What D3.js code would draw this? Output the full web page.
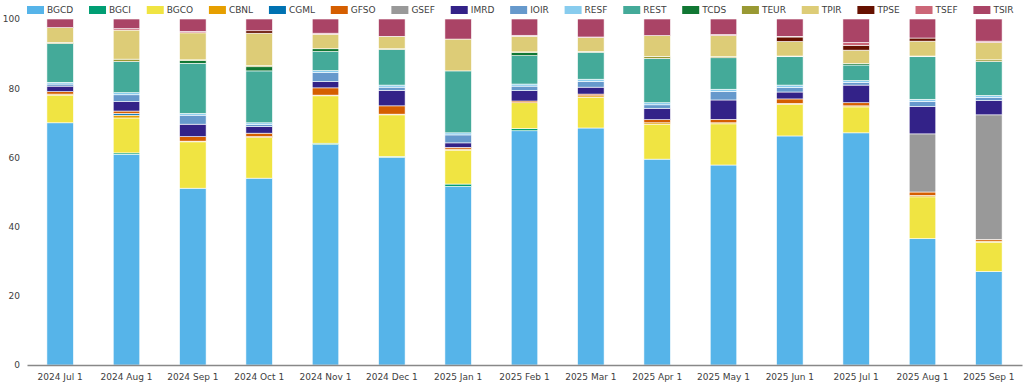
<!DOCTYPE html>
<html>
<head>
<meta charset="utf-8">
<script src="https://cdn.jsdelivr.net/npm/d3@7"></script>
<style>
  body { margin: 0; background: #fff; }
  text { font-family: "DejaVu Sans", Verdana, sans-serif; font-size: 9px; fill: #404040; }
</style>
</head>
<body>
<div id="vis"></div>
<script>
// data (share per month)
var months = ['2024 Jul 1', '2024 Aug 1', '2024 Sep 1', '2024 Oct 1', '2024 Nov 1', '2024 Dec 1', '2025 Jan 1',
              '2025 Feb 1', '2025 Mar 1', '2025 Apr 1', '2025 May 1', '2025 Jun 1', '2025 Jul 1', '2025 Aug 1', '2025 Sep 1'];
var keys = ['BGCD', 'BGCI', 'BGCO', 'CBNL', 'CGML', 'GFSO', 'GSEF', 'IMRD', 'IOIR', 'RESF', 'REST', 'TCDS', 'TEUR', 'TPIR', 'TPSE', 'TSEF', 'TSIR'];
var colors = ['#56B4E9', '#009E73', '#F0E442', '#E69F00', '#0072B2', '#D55E00', '#999999', '#332288', '#6699CC',
              '#88CCEE', '#44AA99', '#117733', '#999933', '#DDCC77', '#661100', '#CC6677', '#AA4466'];

var BGCD = [70.0, 60.9, 51.1, 54.0, 63.7, 60.0, 51.6, 67.7, 68.5, 59.5, 57.8, 66.2, 67.1, 36.5, 27.0];
var BGCI = [0, 0.4, 0, 0, 0.4, 0.3, 0.7, 0.6, 0, 0, 0, 0, 0, 0, 0];
var BGCO = [8.0, 10.1, 13.4, 11.7, 13.7, 12.0, 9.8, 7.5, 8.9, 10.1, 11.9, 9.1, 7.5, 12.1, 8.5];
var CBNL = [0.3, 0.8, 0.2, 0.3, 0.2, 0.2, 0.3, 0, 0.4, 0.4, 0.3, 0.3, 0.3, 0.4, 0.3];
var CGML = [0, 0.5, 0, 0, 0, 0, 0, 0, 0, 0, 0, 0, 0, 0, 0];
var GFSO = [0.7, 0.7, 1.3, 1.0, 2.1, 2.4, 0.5, 0.5, 0.5, 0.9, 1.0, 1.3, 0.9, 1.0, 0.5];
var GSEF = [0, 0, 0, 0, 0, 0, 0, 0, 0, 0, 0, 0, 0, 16.8, 36.0];
var IMRD = [1.6, 2.7, 3.6, 1.9, 1.8, 4.5, 1.3, 3.0, 2.0, 3.3, 5.6, 2.0, 5.1, 7.9, 4.1];
var IOIR = [0.6, 2.0, 2.6, 0.6, 2.6, 0.9, 2.3, 1.3, 1.7, 1.0, 2.5, 1.3, 0.8, 1.5, 0.9];
var RESF = [0.5, 0.6, 0.5, 0.5, 0.6, 0.6, 0.6, 0.6, 0.6, 0.6, 0.6, 0.7, 0.5, 0.6, 0.6];
var REST = [11.2, 9.0, 14.5, 15.0, 5.5, 10.3, 17.9, 8.2, 7.8, 12.8, 9.1, 8.2, 4.5, 12.3, 9.8];
var TCDS = [0, 0, 0.8, 1.2, 0.8, 0, 0, 0.9, 0, 0, 0, 0, 0.4, 0, 0];
var TEUR = [0.3, 0.7, 0.2, 0.3, 0, 0.2, 0, 0.2, 0.2, 0.6, 0.3, 0.2, 0, 0.2, 0.5];
var TPIR = [4.3, 8.4, 7.8, 9.4, 4.2, 3.6, 9.2, 4.5, 4.0, 6.0, 6.1, 4.2, 3.9, 4.3, 5.0];
var TPSE = [0, 0, 0, 0.7, 0, 0, 0, 0, 0, 0, 0, 1.3, 1.4, 0.9, 0];
var TSEF = [0, 0.4, 0.4, 0, 0.3, 0, 0, 0.3, 0.2, 0, 0.3, 0.2, 0.8, 0, 0.4];
var TSIR = [2.5, 2.8, 3.6, 3.4, 4.1, 5.0, 5.8, 4.7, 5.2, 4.8, 4.5, 5.0, 6.8, 5.5, 6.4];
var yTicks = [0, 20, 40, 60, 80, 100];

var series = {BGCD: BGCD, BGCI: BGCI, BGCO: BGCO, CBNL: CBNL, CGML: CGML, GFSO: GFSO, GSEF: GSEF, IMRD: IMRD, IOIR: IOIR,
              RESF: RESF, REST: REST, TCDS: TCDS, TEUR: TEUR, TPIR: TPIR, TPSE: TPSE, TSEF: TSEF, TSIR: TSIR};

var table = months.map(function(m, i) {
    var row = {month: m};
    keys.forEach(function(k) { row[k] = series[k][i]; });
    return row;
});

var width = 1024, height = 385;
var margin = {left: 27, right: 2, top: 19, bottom: 20};

var svg = d3.select('#vis').append('svg')
            .attr('width', width)
            .attr('height', height);

var xScale = d3.scaleBand()
               .domain(months)
               .range([margin.left, width - margin.right])
               .paddingInner(0.6)
               .paddingOuter(0.3);

var yScale = d3.scaleLinear()
               .domain([0, 1])
               .range([height - margin.bottom, margin.top]);

var colorScale = d3.scaleOrdinal().domain(keys).range(colors);

var stacked = d3.stack().keys(keys).offset(d3.stackOffsetExpand)(table);

// bars
var layers = svg.append('g').selectAll('g')
                .data(stacked)
                .enter()
                .append('g')
                .attr('fill', (d) => colorScale(d.key));

layers.selectAll('rect')
      .data((d) => d.filter((p) => p[1] - p[0] > 0))
      .enter()
      .append('rect')
      .attr('x', (d) => xScale(d.data.month))
      .attr('width', xScale.bandwidth())
      .attr('y', (d) => yScale(d[1]))
      .attr('height', (d) => yScale(d[0]) - yScale(d[1]))
      .style('stroke', '#fff')
      .style('stroke-width', 0.6);

// y axis: labels only
var yAxis = d3.axisLeft(yScale)
              .tickValues(yTicks.map((t) => t / 100))
              .tickFormat((d) => Math.round(d * 100))
              .tickSize(0)
              .tickPadding(0);
var yG = svg.append('g')
            .attr('transform', 'translate(20,0)')
            .call(yAxis);
yG.select('.domain').remove();
yG.selectAll('text').attr('font-family', null).attr('font-size', null).attr('fill', null);

// x axis
var xAxis = d3.axisBottom(xScale).tickSize(0).tickPadding(9);
var xG = svg.append('g')
            .attr('transform', `translate(0, ${height - margin.bottom})`)
            .call(xAxis);
xG.select('.domain')
  .attr('stroke', '#888')
  .attr('stroke-width', 1.6);
xG.selectAll('text').attr('font-family', null).attr('font-size', null).attr('fill', null);

// legend
var legend = svg.append('g').attr('class', 'legend');
var lx = 27;
keys.forEach(function(k) {
    legend.append('rect')
          .attr('x', lx)
          .attr('y', 6)
          .attr('width', 17)
          .attr('height', 8)
          .attr('fill', colorScale(k));
    var t = legend.append('text')
                  .attr('x', lx + 20)
                  .attr('y', 10)
                  .attr('dy', '0.35em')
                  .text(k);
    lx = lx + 20 + t.node().getComputedTextLength() + 15.8;
});
</script>
</body>
</html>
